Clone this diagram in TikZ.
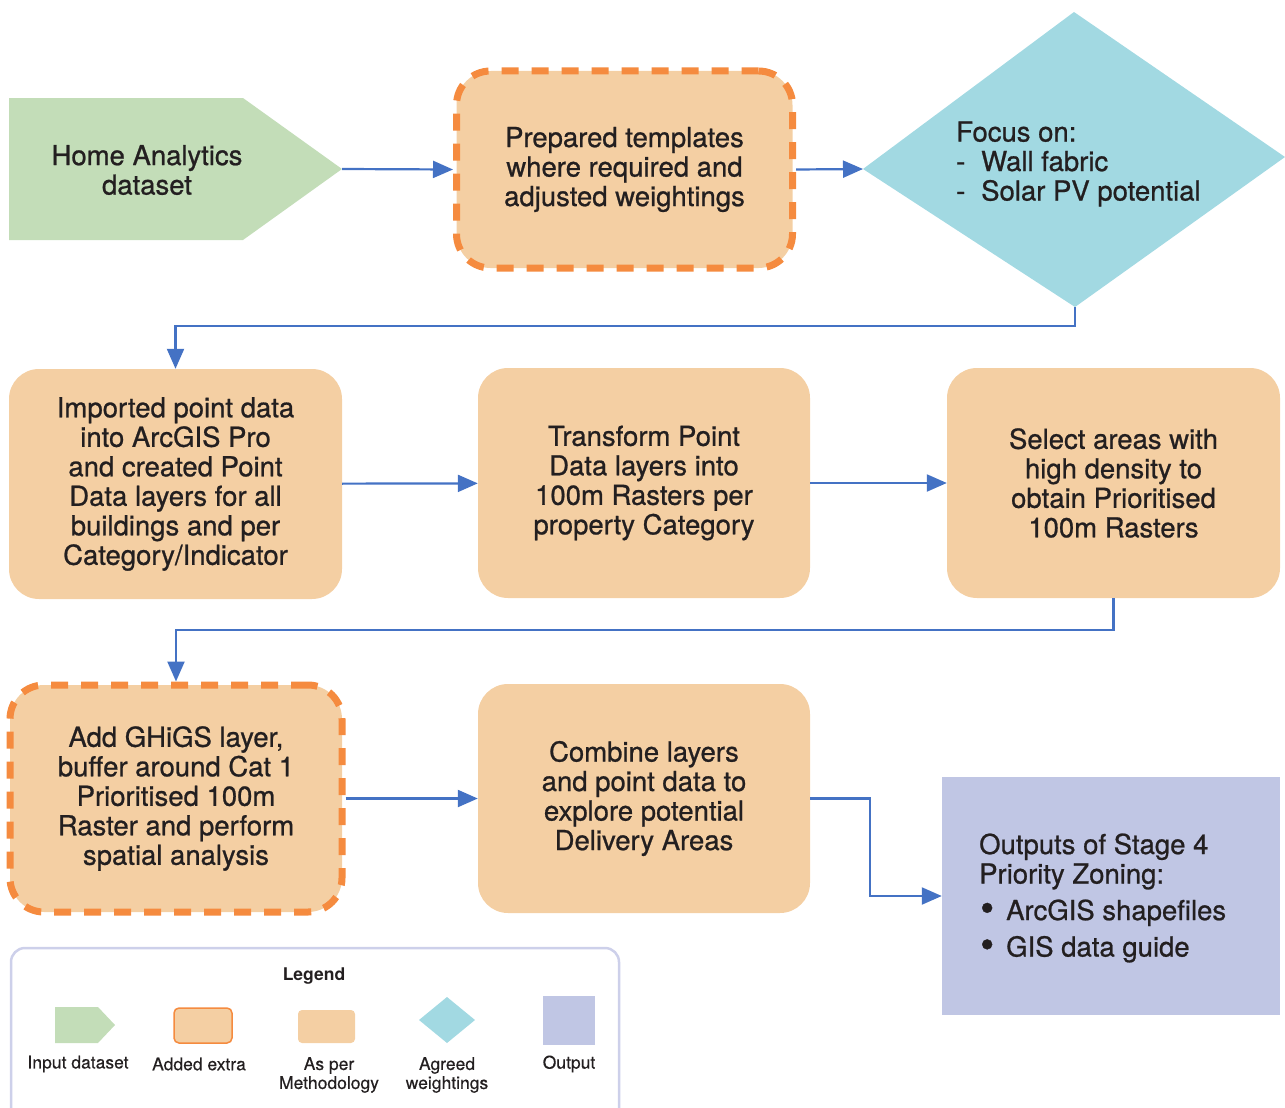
\documentclass[tikz,border=0pt]{standalone}
\usepackage{fontspec}
\setmainfont{TeX Gyre Heros}
\newfontfamily\mediumfont[FakeBold=0.8]{TeX Gyre Heros}
\newfontfamily\legendfont[FakeBold=0.3]{TeX Gyre Heros}
\usetikzlibrary{arrows.meta}

\definecolor{ink}{HTML}{231F20}
\definecolor{flowblue}{HTML}{4472C4}
\definecolor{inputfill}{HTML}{C3DDB8}
\definecolor{stepfill}{HTML}{F4CFA3}
\definecolor{extraline}{HTML}{F58B3F}
\definecolor{agreedfill}{HTML}{A2D9E2}
\definecolor{outputfill}{HTML}{C0C6E4}
\definecolor{legendline}{HTML}{CDD0EA}

\newcommand{\bigbullet}{\raisebox{-1.6pt}{\scalebox{1.45}{\textbullet}}}

\begin{document}
\begin{tikzpicture}[x=1pt,y=-1pt,
  label text/.style={font=\mediumfont\fontsize{27.5}{29.5}\selectfont, text=ink, align=center, inner sep=0pt},
  stepbox/.style={label text, fill=stepfill, rounded corners=30pt},
  extrabox/.style={stepbox, draw=extraline, line width=7pt, dash pattern=on 17pt off 13pt, rounded corners=34pt},
  flow/.style={draw=flowblue, line width=2.2pt, -{Triangle[length=20pt,width=17pt]}},
  legend text/.style={font=\legendfont\fontsize{17.5}{19}\selectfont, text=ink, align=center, inner sep=0pt}]

\useasboundingbox (0,0) rectangle (1285,1108);
\clip (0,0) rectangle (1285,1108);

% ---- input dataset (pentagon)
\coordinate (homeTip) at (342,169);
\fill[inputfill] (9,98) -- (243,98) -- (homeTip) -- (243,240) -- (9,240) -- cycle;
\node[label text] (home) at (147,170) {Home Analytics\\dataset};

% ---- prepared templates (added extra)
\node[extrabox, minimum width=336pt, minimum height=197pt] (prep) at (624.5,169.5)
  {Prepared templates\\where required and\\adjusted weightings};

% ---- agreed weightings (diamond)
\coordinate (fT) at (1074,12);
\coordinate (fR) at (1285,157);
\coordinate (fB) at (1075,307);
\coordinate (fL) at (863,169);
\fill[agreedfill] (fT) -- (fR) -- (fB) -- (fL) -- cycle;
\node[label text, align=left, anchor=west] (focus) at (956,164)
  {Focus on:\\\makebox[25pt][l]{-}Wall fabric\\\makebox[25pt][l]{-}Solar PV potential};

% ---- second row
\node[stepbox, minimum width=333pt, minimum height=230pt] (imp) at (175.5,484)
  {Imported point data\\into ArcGIS Pro\\and created Point\\Data layers for all\\buildings and per\\Category/Indicator};
\node[stepbox, minimum width=332pt, minimum height=230pt] (trans) at (644,483)
  {Transform Point\\Data layers into\\100m Rasters per\\property Category};
\node[stepbox, minimum width=333pt, minimum height=230pt] (sel) at (1113.5,483)
  {Select areas with\\high density to\\obtain Prioritised\\100m Rasters};

% ---- third row
\node[extrabox, minimum width=332pt, minimum height=227pt] (ghigs) at (176,798.5)
  {Add GHiGS layer,\\buffer around Cat 1\\Prioritised 100m\\Raster and perform\\spatial analysis};
\node[stepbox, minimum width=332pt, minimum height=229pt] (comb) at (644,798.5)
  {Combine layers\\and point data to\\explore potential\\Delivery Areas};

% ---- output
\node[fill=outputfill, minimum width=338pt, minimum height=238pt, inner sep=0pt] (out) at (1111,896) {};
\node[label text, align=left, anchor=west] (outtxt) at (979,898)
  {Outputs of Stage 4\\Priority Zoning:\\[7pt]
   \hspace*{1pt}\makebox[26pt][l]{\bigbullet}ArcGIS shapefiles\\[7pt]
   \hspace*{1pt}\makebox[26pt][l]{\bigbullet}GIS data guide};

% ---- connectors
\draw[flow] (homeTip) -- (prep.west);
\draw[flow] (prep.east) -- (fL);
\draw[flow] (fB) -- ++(0,19) -| (imp.north);
\draw[flow] (imp) -- (trans);
\draw[flow] (trans) -- (sel);
\draw[flow] (sel.south) -- ++(0,32) -| (ghigs.north);
\draw[flow] (ghigs) -- (comb);
\draw[flow] (comb.east) -- ++(60,0) |- (out.west);

% ---- legend
\node[draw=legendline, line width=2.5pt, rounded corners=14pt, minimum width=608pt, minimum height=180pt, inner sep=0pt] (legend) at (315,1038) {};
\node[legend text, font=\fontsize{17.5}{19}\selectfont\bfseries] (legendtitle) at (314,976) {Legend};

\fill[inputfill] (55,1007) -- (98,1007) -- (115,1025) -- (98,1043) -- (55,1043) -- cycle;
\node[legend text] (lin) at (78,1064) {Input dataset};

\draw[fill=stepfill, draw=extraline, line width=1.5pt, rounded corners=5pt] (174,1008) rectangle (232,1043);
\node[legend text] (lextra) at (199,1064) {Added extra};

\fill[stepfill, rounded corners=4pt] (298,1010) rectangle (355,1043);
\node[legend text, anchor=north] (lmeth) at (329,1057) {As per\\Methodology};

\fill[agreedfill] (447,997) -- (475,1020) -- (447,1043) -- (419,1020) -- cycle;
\node[legend text, anchor=north] (lagreed) at (447,1057) {Agreed\\weightings};

\fill[outputfill] (543,996) rectangle (595,1045);
\node[legend text] (lout) at (569,1064) {Output};

\end{tikzpicture}
\end{document}
